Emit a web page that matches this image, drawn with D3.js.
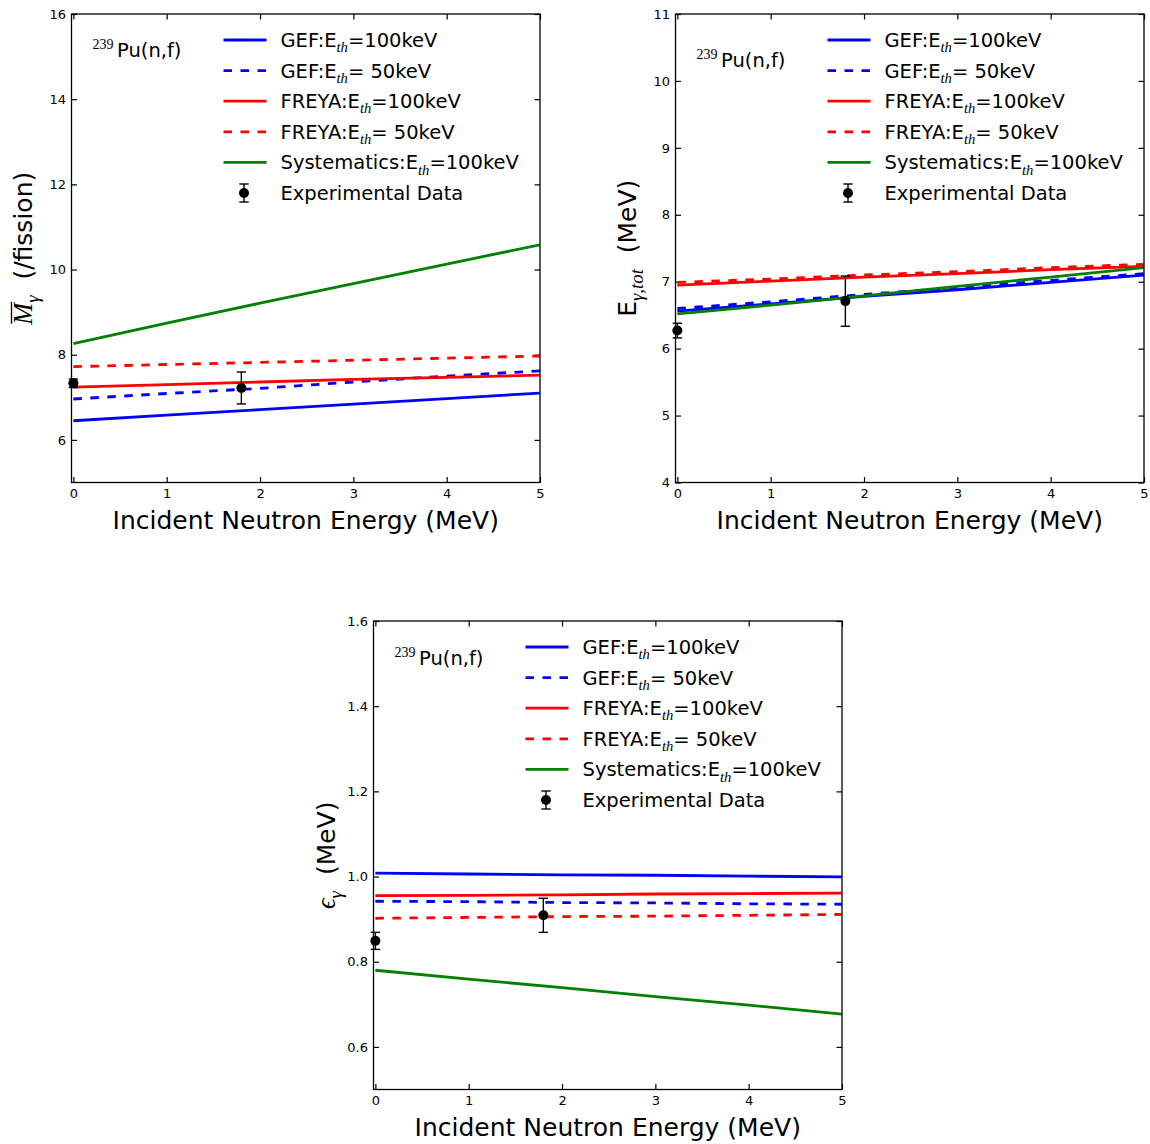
<!DOCTYPE html>
<html>
<head>
<meta charset="utf-8">
<script src="https://cdn.jsdelivr.net/npm/d3@7"></script>
<style>
  html, body { margin: 0; padding: 0; background: #ffffff; }
  text { white-space: pre; }
</style>
</head>
<body>
<script>
// ---------------- DATA ----------------
const energies = [0, 1, 2, 3, 4, 5];          // incident neutron energy grid (MeV)
const xTicks = [0, 1, 2, 3, 4, 5];
const expEnergies = [0, 1.8];

// Panel 1: average gamma multiplicity (/fission)
const multGEF100   = [6.45, 6.58, 6.71, 6.84, 6.97, 7.10];
const multGEF50    = [6.96, 7.09, 7.21, 7.36, 7.50, 7.62];
const multFREYA100 = [7.24, 7.30, 7.36, 7.42, 7.47, 7.52];
const multFREYA50  = [7.72, 7.77, 7.82, 7.87, 7.92, 7.97];
const multSyst     = [8.26, 8.74, 9.21, 9.67, 10.13, 10.58];
const multExp      = [7.33, 7.22];
const multExpErr   = [0.10, 0.375];
const multTicks    = [6, 8, 10, 12, 14, 16];

// Panel 2: total gamma energy (MeV)
const etotGEF100   = [6.56, 6.67, 6.78, 6.88, 6.99, 7.10];
const etotGEF50    = [6.60, 6.70, 6.81, 6.91, 7.02, 7.12];
const etotFREYA100 = [6.95, 7.01, 7.07, 7.12, 7.18, 7.23];
const etotFREYA50  = [6.99, 7.04, 7.10, 7.15, 7.21, 7.26];
const etotSyst     = [6.52, 6.65, 6.79, 6.93, 7.07, 7.21];
const etotExp      = [6.27, 6.71];
const etotExpErr   = [0.11, 0.375];
const etotTicks    = [4, 5, 6, 7, 8, 9, 10, 11];

// Panel 3: average gamma energy (MeV)
const epsGEF100    = [1.008, 1.006, 1.004, 1.003, 1.001, 0.999];
const epsGEF50     = [0.942, 0.941, 0.939, 0.938, 0.936, 0.935];
const epsFREYA100  = [0.955, 0.956, 0.957, 0.959, 0.960, 0.961];
const epsFREYA50   = [0.902, 0.904, 0.906, 0.907, 0.909, 0.911];
const epsSyst      = [0.780, 0.759, 0.739, 0.718, 0.698, 0.677];
const epsExp       = [0.849, 0.909];
const epsExpErr    = [0.02, 0.04];
const epsTicks     = [0.6, 0.8, 1.0, 1.2, 1.4, 1.6];

// Legend labels: [prefix, subscript, suffix]
const legendLabels = [
  ["GEF:E", "th", "=100keV"],
  ["GEF:E", "th", "= 50keV"],
  ["FREYA:E", "th", "=100keV"],
  ["FREYA:E", "th", "= 50keV"],
  ["Systematics:E", "th", "=100keV"],
  ["Experimental Data", "", ""]
];
const xLabel = "Incident Neutron Energy (MeV)";
const annotationSup = "239";
const annotationText = "Pu(n,f)";

// ---------------- STYLE ----------------
const SANS = "DejaVu Sans";
const SERIF = "Liberation Serif";
const seriesStyles = [
  { color: "#0000ff", dash: null },
  { color: "#0000ff", dash: "8.5,8.5" },
  { color: "#ff0000", dash: null },
  { color: "#ff0000", dash: "8.5,8.5" },
  { color: "#008000", dash: null }
];
const W = 468.5, H = 468.5, TL = 5.5, LW = 2.8;
const xDomain = [-0.02, 5];

const svg = d3.select("body").append("svg")
  .attr("width", 1150).attr("height", 1144);
svg.append("rect").attr("width", 1150).attr("height", 1144).attr("fill", "#fff");

function addRich(textSel, parts, size) {
  let shift = 0;
  parts.forEach(p => {
    const ts = textSel.append("tspan").text(p.t);
    let target = 0;
    if (p.kind === "sub") {
      ts.attr("font-family", SERIF).attr("font-style", "italic").attr("font-size", size * 0.75);
      target = size * 0.27;
    } else if (p.kind === "mathit") {
      ts.attr("font-family", SERIF).attr("font-style", "italic").attr("font-size", size * 1.05);
    } else {
      ts.attr("font-family", SANS).attr("font-size", size);
    }
    const dy = target - shift;
    if (dy !== 0) ts.attr("dy", dy);
    shift = target;
  });
  return textSel;
}

function drawPanel(cfg) {
  const g = svg.append("g").attr("transform", `translate(${cfg.left},${cfg.top})`);
  const x = d3.scaleLinear().domain(xDomain).range([0, W]);
  const y = d3.scaleLinear().domain(cfg.yDomain).range([H, 0]);

  const styleAxis = (sel) => {
    sel.select(".domain").remove();
    sel.selectAll(".tick line").attr("stroke", "#000").attr("stroke-width", 1.2);
    sel.selectAll(".tick text").attr("font-family", SANS).attr("font-size", 13).attr("fill", "#000");
  };

  g.append("g").attr("transform", `translate(0,${H})`)
    .call(d3.axisBottom(x).tickValues(xTicks).tickSize(-TL).tickPadding(6).tickFormat(d3.format("d")))
    .call(styleAxis);
  g.append("g")
    .call(d3.axisTop(x).tickValues(xTicks).tickSize(-TL).tickFormat(""))
    .call(styleAxis);
  g.append("g")
    .call(d3.axisLeft(y).tickValues(cfg.yTicks).tickSize(-TL).tickPadding(5.5).tickFormat(cfg.yFormat))
    .call(styleAxis);
  g.append("g").attr("transform", `translate(${W},0)`)
    .call(d3.axisRight(y).tickValues(cfg.yTicks).tickSize(-TL).tickFormat(""))
    .call(styleAxis);

  const clipId = "clip" + cfg.id;
  svg.append("defs").append("clipPath").attr("id", clipId)
    .append("rect").attr("width", W).attr("height", H);

  const line = d3.line().x(d => x(d[0])).y(d => y(d[1]));
  const lines = g.append("g").attr("clip-path", `url(#${clipId})`);
  cfg.series.forEach((vals, i) => {
    const st = seriesStyles[i];
    lines.append("path")
      .datum(energies.map((e, k) => [e, vals[k]]))
      .attr("d", line)
      .attr("fill", "none")
      .attr("stroke", st.color)
      .attr("stroke-width", LW)
      .attr("stroke-dasharray", st.dash);
  });

  const expG = g.append("g");
  expEnergies.forEach((e, k) => {
    const cx = x(e), cy = y(cfg.exp[k]);
    const y1 = y(cfg.exp[k] + cfg.expErr[k]), y2 = y(cfg.exp[k] - cfg.expErr[k]);
    expG.append("line").attr("x1", cx).attr("x2", cx).attr("y1", y1).attr("y2", y2)
      .attr("stroke", "#000").attr("stroke-width", 1.4);
    [y1, y2].forEach(yy => expG.append("line").attr("x1", cx - 4.7).attr("x2", cx + 4.7)
      .attr("y1", yy).attr("y2", yy).attr("stroke", "#000").attr("stroke-width", 1.4));
    expG.append("circle").attr("cx", cx).attr("cy", cy).attr("r", 5).attr("fill", "#000");
  });

  g.append("rect").attr("width", W).attr("height", H)
    .attr("fill", "none").attr("stroke", "#000").attr("stroke-width", 1.3);

  const lg = g.append("g");
  legendLabels.forEach((lab, i) => {
    const ry = 26 + i * 30.6;
    if (i < 5) {
      const st = seriesStyles[i];
      lg.append("line").attr("x1", 152).attr("x2", 195).attr("y1", ry).attr("y2", ry)
        .attr("stroke", st.color).attr("stroke-width", LW).attr("stroke-dasharray", st.dash);
    } else {
      const mx = 172.5;
      lg.append("line").attr("x1", mx).attr("x2", mx).attr("y1", ry - 9).attr("y2", ry + 9)
        .attr("stroke", "#000").attr("stroke-width", 1.4);
      [ry - 9, ry + 9].forEach(yy => lg.append("line").attr("x1", mx - 4.7).attr("x2", mx + 4.7)
        .attr("y1", yy).attr("y2", yy).attr("stroke", "#000").attr("stroke-width", 1.4));
      lg.append("circle").attr("cx", mx).attr("cy", ry).attr("r", 5).attr("fill", "#000");
    }
    const t = lg.append("text").attr("x", 209).attr("y", ry + 7).attr("fill", "#000");
    const parts = [{ t: lab[0], kind: "sans" }];
    if (lab[1]) parts.push({ t: lab[1], kind: "sub" });
    if (lab[2]) parts.push({ t: lab[2], kind: "sans" });
    addRich(t, parts, 19.5);
  });

  g.append("text").attr("x", 21).attr("y", cfg.annY - 8)
    .attr("font-family", SERIF).attr("font-size", 14).attr("fill", "#000").text(annotationSup);
  g.append("text").attr("x", 45.5).attr("y", cfg.annY)
    .attr("font-family", SANS).attr("font-size", 19.5).attr("fill", "#000").text(annotationText);

  g.append("text").attr("x", W / 2).attr("y", H + 46.5)
    .attr("text-anchor", "middle").attr("font-family", SANS).attr("font-size", 25)
    .attr("fill", "#000").text(xLabel);

  const yl = g.append("g").attr("transform", `translate(${cfg.ylabX},${H / 2}) rotate(-90)`);
  const yt = yl.append("text").attr("x", 0).attr("y", 0).attr("text-anchor", "middle").attr("fill", "#000");
  addRich(yt, cfg.ylabel, 25);
  if (cfg.overline) {
    const ext = yt.node().getExtentOfChar(0);
    yl.append("line").attr("x1", ext.x + 1).attr("x2", ext.x + ext.width + 1)
      .attr("y1", -20.5).attr("y2", -20.5).attr("stroke", "#000").attr("stroke-width", 1.3);
  }
}

drawPanel({
  id: 1, left: 71.5, top: 14, yDomain: [5, 16], yTicks: multTicks, yFormat: d3.format("d"),
  series: [multGEF100, multGEF50, multFREYA100, multFREYA50, multSyst],
  exp: multExp, expErr: multExpErr, annY: 43, ylabX: -39.5, overline: true,
  ylabel: [{ t: "M", kind: "mathit" }, { t: "γ", kind: "sub" }, { t: "  (/fission)", kind: "sans" }]
});
drawPanel({
  id: 2, left: 675.5, top: 14, yDomain: [4, 11], yTicks: etotTicks, yFormat: d3.format("d"),
  series: [etotGEF100, etotGEF50, etotFREYA100, etotFREYA50, etotSyst],
  exp: etotExp, expErr: etotExpErr, annY: 53, ylabX: -39.5, overline: false,
  ylabel: [{ t: "E", kind: "sans" }, { t: "γ,tot", kind: "sub" }, { t: "  (MeV)", kind: "sans" }]
});
drawPanel({
  id: 3, left: 373.5, top: 621, yDomain: [0.5, 1.6], yTicks: epsTicks, yFormat: d3.format(".1f"),
  series: [epsGEF100, epsGEF50, epsFREYA100, epsFREYA50, epsSyst],
  exp: epsExp, expErr: epsExpErr, annY: 44, ylabX: -38.5, overline: false,
  ylabel: [{ t: "ϵ", kind: "mathit" }, { t: "γ", kind: "sub" }, { t: "  (MeV)", kind: "sans" }]
});
</script>
</body>
</html>
